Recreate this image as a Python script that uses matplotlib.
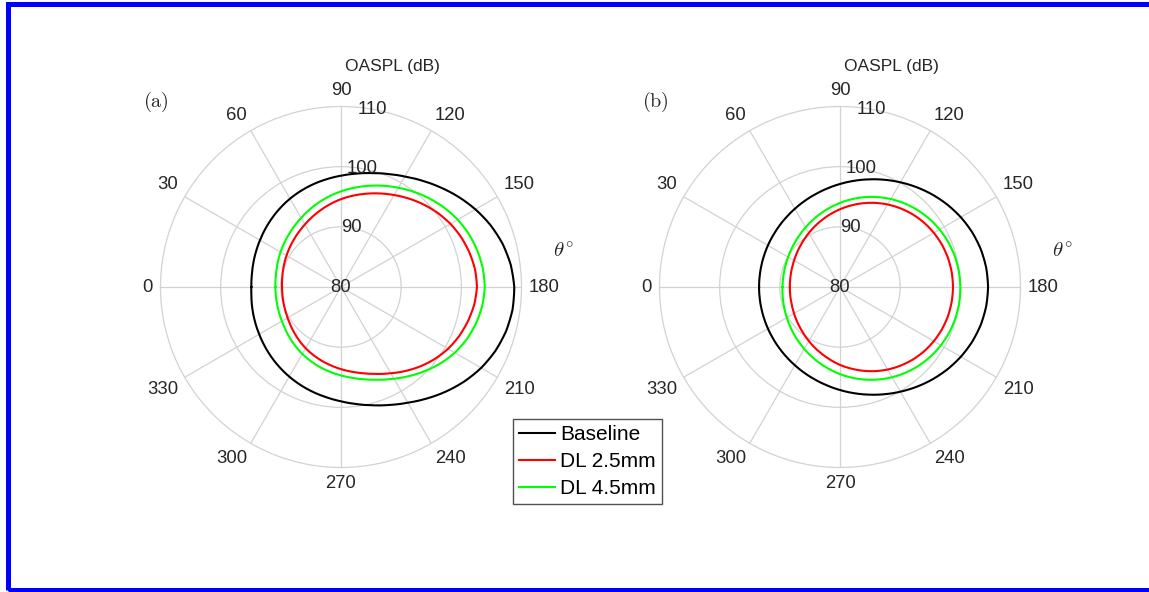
import numpy as np
import matplotlib
matplotlib.use("Agg")
import matplotlib.pyplot as plt
from matplotlib.patches import Rectangle
from matplotlib.lines import Line2D

plt.rcParams['font.family'] = ['Liberation Sans', 'DejaVu Sans']
plt.rcParams['mathtext.fontset'] = 'cm'

# ---------------- data (OASPL in dB vs directivity angle in degrees) ----------------
theta_deg = [0, 7.5, 15, 22.5, 30, 37.5, 45, 52.5, 60, 67.5, 75, 82.5,
             90, 97.5, 105, 112.5, 120, 127.5, 135, 142.5, 150, 157.5, 165, 172.5,
             180, 187.5, 195, 202.5, 210, 217.5, 225, 232.5, 240, 247.5, 255, 262.5,
             270, 277.5, 285, 292.5, 300, 307.5, 315, 322.5, 330, 337.5, 345, 352.5]

a_baseline = [94.9, 94.95, 95.1, 95.30, 95.55, 95.86, 96.2, 96.57, 96.95, 97.32, 97.7, 98.08,
              98.5, 99.0, 99.6, 100.33, 101.2, 102.25, 103.4, 104.61, 105.8, 106.89, 107.8, 108.45,
              108.8, 108.76, 108.4, 107.77, 106.9, 105.81, 104.6, 103.37, 102.2, 101.21, 100.35, 99.62,
              99.0, 98.49, 98.05, 97.62, 97.2, 96.79, 96.4, 96.03, 95.7, 95.43, 95.2, 95.01]
a_dl25 = [89.8, 89.87, 90.0, 90.20, 90.45, 90.75, 91.1, 91.52, 92.0, 92.57, 93.2, 93.88,
          94.6, 95.31, 96.05, 96.83, 97.65, 98.53, 99.4, 100.24, 101.0, 101.62, 102.1, 102.47,
          102.6, 102.34, 101.85, 101.27, 100.55, 99.65, 98.65, 97.59, 96.55, 95.64, 94.85, 94.21,
          93.65, 93.13, 92.65, 92.19, 91.75, 91.31, 90.9, 90.54, 90.25, 90.04, 89.9, 89.82]
a_dl45 = [90.9, 90.96, 91.1, 91.32, 91.6, 91.92, 92.3, 92.74, 93.25, 93.85, 94.5, 95.18,
          95.9, 96.63, 97.4, 98.21, 99.05, 99.93, 100.8, 101.64, 102.4, 103.0, 103.45, 103.78,
          103.9, 103.69, 103.25, 102.64, 101.85, 100.85, 99.75, 98.65, 97.6, 96.69, 95.9, 95.25,
          94.7, 94.21, 93.75, 93.29, 92.85, 92.41, 92.0, 91.64, 91.35, 91.14, 91.0, 90.92]

b_baseline = [93.45, 93.47, 93.54, 93.66, 93.83, 94.04, 94.31, 94.63, 95.01, 95.45, 95.94, 96.50,
              97.12, 97.80, 98.52, 99.29, 100.09, 100.91, 101.72, 102.49, 103.19, 103.78, 104.23, 104.51,
              104.61, 104.51, 104.23, 103.78, 103.19, 102.49, 101.72, 100.91, 100.09, 99.29, 98.52, 97.80,
              97.12, 96.50, 95.94, 95.45, 95.01, 94.63, 94.31, 94.04, 93.83, 93.66, 93.54, 93.47]
b_dl25 = [88.33, 88.36, 88.45, 88.60, 88.82, 89.10, 89.45, 89.87, 90.36, 90.92, 91.53, 92.21,
          92.92, 93.66, 94.40, 95.14, 95.84, 96.49, 97.08, 97.59, 98.01, 98.35, 98.59, 98.73,
          98.78, 98.73, 98.59, 98.35, 98.01, 97.59, 97.08, 96.49, 95.84, 95.14, 94.40, 93.66,
          92.95, 92.21, 91.53, 90.92, 90.36, 89.87, 89.45, 89.10, 88.82, 88.60, 88.45, 88.36]
b_dl45 = [89.56, 89.56, 89.62, 89.76, 89.96, 90.22, 90.55, 90.96, 91.44, 91.99, 92.60, 93.27,
          93.97, 94.71, 95.45, 96.18, 96.88, 97.54, 98.14, 98.67, 99.12, 99.48, 99.75, 99.92,
          100.0, 99.99, 99.88, 99.67, 99.37, 98.98, 98.50, 97.94, 97.32, 96.64, 95.93, 95.20,
          94.47, 93.76, 93.08, 92.45, 91.88, 91.36, 90.91, 90.52, 90.20, 89.94, 89.75, 89.62]

series_names = ['Baseline', 'DL 2.5mm', 'DL 4.5mm']
series_colors = ['#000000', '#ff0000', '#00ff00']
panel_labels = ['(a)', '(b)']
theta_ticks = [0, 30, 60, 90, 120, 150, 180, 210, 240, 270, 300, 330]
r_ticks = [80, 90, 100, 110]
r_min, r_max = 80, 110

panels = [(a_baseline, a_dl25, a_dl45), (b_baseline, b_dl25, b_dl45)]

# ---------------- figure ----------------
W, H = 1149, 592
fig = plt.figure(figsize=(W / 100, H / 100), dpi=100)
fig.patch.set_facecolor('white')

R_PX = 180.5
centers = [(341, 287), (840, 287)]
grid_col = '#d2d2d2'
tick_fs = 13.3

for (cx, cy), data, plabel in zip(centers, panels, panel_labels):
    left = (cx - R_PX) / W
    bottom = (H - cy - R_PX) / H
    ax = fig.add_axes([left, bottom, 2 * R_PX / W, 2 * R_PX / H], projection='polar')
    ax.set_theta_zero_location('W')
    ax.set_theta_direction(-1)
    ax.set_rlim(r_min, r_max)
    ax.set_thetagrids(theta_ticks, labels=[''] * len(theta_ticks))
    ax.set_rgrids(r_ticks[1:-1], labels=[''] * (len(r_ticks) - 2))
    ax.tick_params(length=0)
    ax.grid(True, color=grid_col, linewidth=0.9)
    ax.spines['polar'].set_color(grid_col)
    ax.spines['polar'].set_linewidth(0.9)
    ax.set_axisbelow(True)

    th = np.deg2rad(np.array(theta_deg + [360]))
    for vals, col in zip(data, series_colors):
        ln, = ax.plot(th, list(vals) + [vals[0]], color=col, linewidth=1.5, zorder=3)
        # draw each segment along the polar (theta, r) path instead of a straight chord
        ln.get_path()._interpolation_steps = 20

    # theta labels (MATLAB-style edge alignment)
    r_lab = r_min + (r_max - r_min) * 188.0 / R_PX
    for t in theta_ticks:
        ux = -np.cos(np.deg2rad(t))
        uy = np.sin(np.deg2rad(t))
        ha = 'right' if ux < -0.1 else ('left' if ux > 0.1 else 'center')
        va = 'bottom' if uy > 0.1 else ('top' if uy < -0.1 else 'center')
        ax.text(np.deg2rad(t), r_lab, str(t), ha=ha, va=va, fontsize=tick_fs,
                color='#262626', clip_on=False)

    # radial labels
    for r in r_ticks:
        ax.text(np.deg2rad(100) if r > r_min else 0.0, r, str(r), ha='center', va='center',
                fontsize=tick_fs, color='#262626', zorder=5, clip_on=False)

    ax.text(0.5 + 51 / (2 * R_PX), 0.5 + 220 / (2 * R_PX), 'OASPL (dB)', transform=ax.transAxes,
            ha='center', va='center', fontsize=12.5, color='#262626')
    ax.text(0.5 + 222 / (2 * R_PX), 0.5 + 35 / (2 * R_PX), r'$\theta^{\circ}$', transform=ax.transAxes,
            ha='center', va='center', fontsize=15, color='#262626')
    ax.text(0.5 - 185 / (2 * R_PX), 0.5 + 185 / (2 * R_PX), r'$\mathrm{' + plabel + '}$',
            transform=ax.transAxes, ha='center', va='center', fontsize=14.5, color='#262626')

handles = [Line2D([0], [0], color=c, linewidth=1.5) for c in series_colors]
leg = fig.legend(handles, series_names, loc='upper left', bbox_to_anchor=(513 / W, 1 - 419 / H),
                 borderaxespad=0, fontsize=15, frameon=True, fancybox=False,
                 edgecolor='#262626', handlelength=1.7, handletextpad=0.25,
                 labelspacing=0.38, borderpad=0.3)
leg.get_frame().set_linewidth(1.0)

# blue outer frame
fig.patches.append(Rectangle((7.5 / W, 2.5 / H), (1170 - 7.5) / W, (588.5 - 2.5) / H,
                             transform=fig.transFigure, fill=False, edgecolor='#0000ff',
                             linewidth=3.6, zorder=10))

fig.savefig('out.png', dpi=100)
